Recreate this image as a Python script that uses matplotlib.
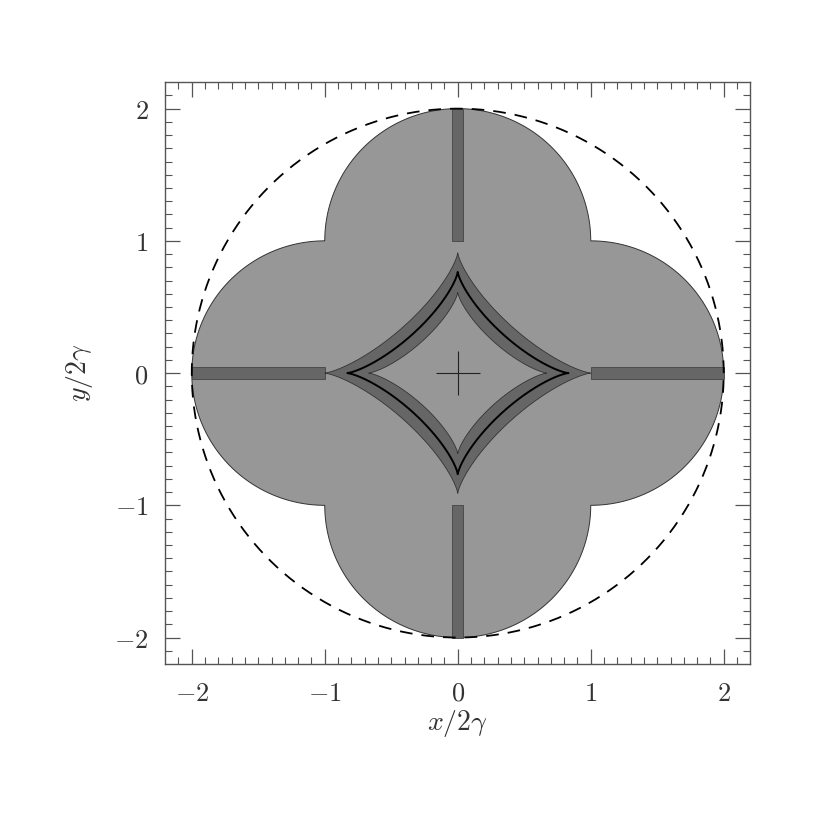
import numpy as np
import matplotlib.pyplot as plt
from matplotlib.patches import Polygon

plt.rcParams['mathtext.fontset'] = 'cm'
plt.rcParams['font.family'] = 'serif'
plt.rcParams['font.serif'] = ['DejaVu Serif']

# lobes: four unit circles
lobe_cx = [1.0, 0.0, -1.0, 0.0]
lobe_cy = [0.0, 1.0, 0.0, -1.0]
lobe_r = 1.0
outer_r = 2.0

# dark strips along the axes (start, end)
strip_lo = [1.0, -2.0]
strip_hi = [2.0, -1.0]
strip_w = 0.085

# caustic-like curves (half widths along x, y), exponent of |x/a|^p + |y/b|^p = 1
band_out = (1.0, 0.91)
curve_mid = (0.83, 0.765)
band_in = (0.67, 0.61)
shape_p = 0.75

ticks = [-2, -1, 0, 1, 2]
tick_labels = [r'$-2$', r'$-1$', r'$0$', r'$1$', r'$2$']

light = '#979797'
dark = '#666666'
edge = '#333333'

fig = plt.figure(figsize=(8.3, 8.3), dpi=100)
ax = fig.add_axes([0.199, 0.2, 0.705, 0.701])

# union of four circles -> boundary of four semicircles
pts = []
for cx, cy in zip(lobe_cx, lobe_cy):
    phi = np.arctan2(cy, cx)
    t = np.linspace(phi - np.pi / 2, phi + np.pi / 2, 200)
    pts.append(np.column_stack([cx + lobe_r * np.cos(t), cy + lobe_r * np.sin(t)]))
pts = np.vstack(pts)
ax.add_patch(Polygon(pts, closed=True, fc=light, ec=edge, lw=0.7, zorder=1))

# strips
for lo, hi in zip(strip_lo, strip_hi):
    ax.bar(0, hi - lo, bottom=lo, width=strip_w, color=dark, ec='#444444', lw=0.6, zorder=2)
    ax.barh(0, hi - lo, left=lo, height=strip_w, color=dark, ec='#444444', lw=0.6, zorder=2)


def caustic(a, b, n=1200):
    t = np.linspace(0, 2 * np.pi, n)
    e = 2.0 / shape_p
    c, s = np.cos(t), np.sin(t)
    return a * np.sign(c) * np.abs(c) ** e, b * np.sign(s) * np.abs(s) ** e


x, y = caustic(*band_out)
ax.fill(x, y, fc=dark, ec=edge, lw=0.6, zorder=3)
x, y = caustic(*band_in)
ax.fill(x, y, fc=light, ec=edge, lw=0.6, zorder=4)
x, y = caustic(*curve_mid)
ax.plot(x, y, color='black', lw=1.4, zorder=5)

ax.plot([0], [0], marker='+', ms=32, mew=0.8, color='#222222', zorder=6)

t = np.linspace(0, 2 * np.pi, 600)
ax.plot(outer_r * np.cos(t), outer_r * np.sin(t), color='black', lw=1.3,
        dashes=(7, 5), zorder=7)

ax.set_xlim(-2.2, 2.2)
ax.set_ylim(-2.2, 2.2)
ax.set_xticks(ticks)
ax.set_yticks(ticks)
ax.set_xticklabels(tick_labels)
ax.set_yticklabels(tick_labels)
ax.set_xticks(np.arange(-2.1, 2.15, 0.1), minor=True)
ax.set_yticks(np.arange(-2.1, 2.15, 0.1), minor=True)
ax.tick_params(which='both', direction='in', top=True, right=True, color='#555555')
ax.tick_params(which='major', length=11, width=0.9, labelsize=19, pad=12, labelcolor='#333333')
ax.tick_params(which='minor', length=5, width=0.8)
for s in ax.spines.values():
    s.set_color('#555555')
    s.set_linewidth(1.0)

ax.set_xlabel(r'$x/2\gamma$', fontsize=20, color='#333333', labelpad=2)
ax.set_ylabel(r'$y/2\gamma$', fontsize=20, color='#333333', labelpad=14)

fig.savefig('out.png', dpi=100)
